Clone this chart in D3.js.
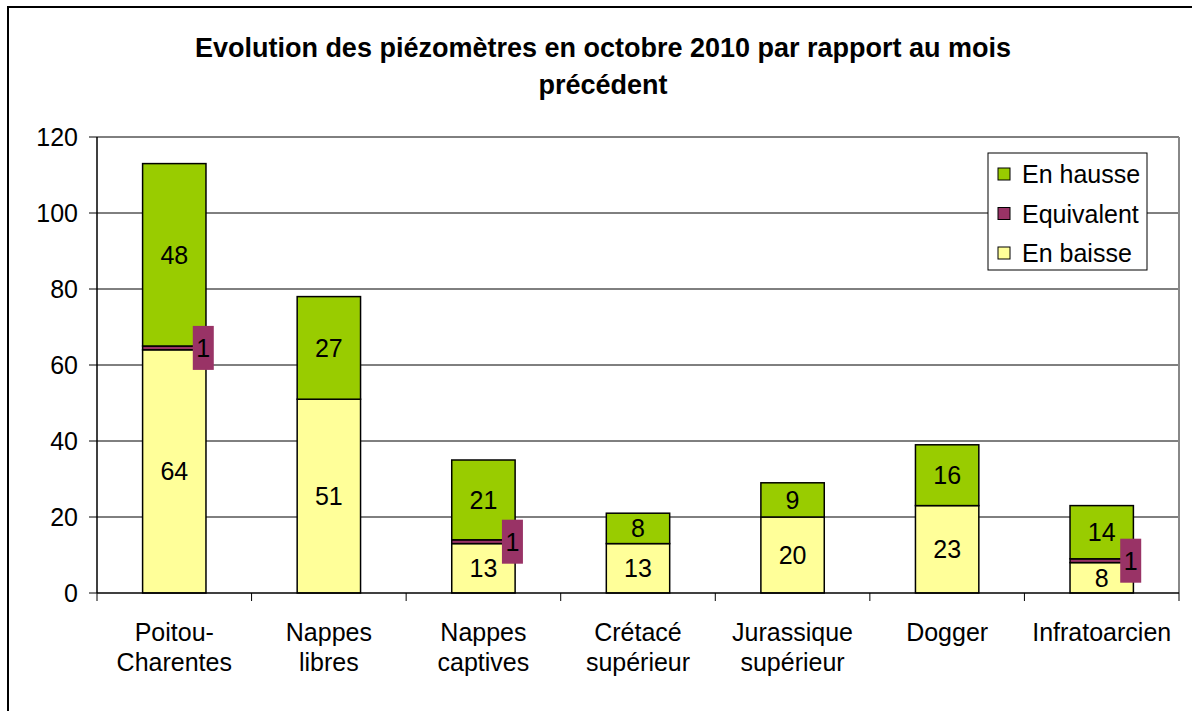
<!DOCTYPE html>
<html><head><meta charset="utf-8">
<script src="https://cdn.jsdelivr.net/npm/d3@7"></script>
<style>body{margin:0;background:#fff}svg{display:block;font-family:"Liberation Sans",Arial,sans-serif}</style>
</head><body><svg id="c" width="1192" height="711"></svg>
<script>
const categories = [["Poitou-","Charentes"],["Nappes","libres"],["Nappes","captives"],["Crétacé","supérieur"],["Jurassique","supérieur"],["Dogger"],["Infratoarcien"]];
const enBaisse = [64,51,13,13,20,23,8];
const equivalent = [1,0,1,0,0,0,1];
const enHausse = [48,27,21,8,9,16,14];
const yTicks = [0,20,40,60,80,100,120];
const seriesNames = ["En baisse","Equivalent","En hausse"];
const colors = ["#FFFF99","#993366","#99CC00"];
const titleLines = ["Evolution des piézomètres en octobre 2010 par rapport au mois","précédent"];

const svg = d3.select("#c");
const L=97,R=1179,T=137,B=593;
const x = d3.scaleBand().domain(d3.range(categories.length)).range([L,R]).paddingInner(0.59).paddingOuter(0.295);
const y = d3.scaleLinear().domain([0,120]).range([B,T]);

svg.append("rect").attr("x",8).attr("y",7).attr("width",1250).attr("height",800).attr("fill","none").attr("stroke","#000").attr("stroke-width",2);

// title
svg.append("text").attr("x",603).attr("font-weight","bold").attr("font-size",27).attr("text-anchor","middle")
  .selectAll("tspan").data(titleLines).join("tspan").attr("x",603).attr("y",(d,i)=>57+i*37).text(d=>d);

// gridlines
svg.append("g").selectAll("line").data(yTicks.filter(d=>d>0)).join("line")
  .attr("x1",L).attr("x2",R).attr("y1",d=>y(d)).attr("y2",d=>y(d)).attr("stroke","#000").attr("stroke-width",1);
svg.append("line").attr("x1",R).attr("x2",R).attr("y1",T).attr("y2",B).attr("stroke","#888").attr("stroke-width",2);

// stacked data
const rows = categories.map((c,i)=>({i, b:enBaisse[i], e:equivalent[i], h:enHausse[i]}));
const stack = d3.stack().keys(["b","e","h"])(rows);

const g = svg.append("g");
stack.forEach((s,k)=>{
  g.selectAll(null).data(s.filter(d=>d[1]>d[0])).join("rect")
    .attr("x",d=>x(d.data.i)).attr("width",x.bandwidth())
    .attr("y",d=>y(d[1])).attr("height",d=>y(d[0])-y(d[1]))
    .attr("fill",colors[k]).attr("stroke","#000").attr("stroke-width",1.5);
});

// labels
[0,2].forEach(k=>{
  g.selectAll(null).data(stack[k].filter(d=>d[1]>d[0])).join("text")
    .attr("x",d=>x(d.data.i)+x.bandwidth()/2).attr("y",d=>(y(d[0])+y(d[1]))/2+9)
    .attr("text-anchor","middle").attr("font-size",25).text(d=>d[1]-d[0]);
});
const eq = stack[1].filter(d=>d[1]>d[0]);
const eg = g.selectAll(null).data(eq).join("g")
  .attr("transform",d=>`translate(${x(d.data.i)+x.bandwidth()/2+29},${(y(d[0])+y(d[1]))/2})`);
eg.append("rect").attr("x",-10.5).attr("y",-22).attr("width",21).attr("height",44).attr("fill","#993366");
eg.append("text").attr("y",9).attr("text-anchor","middle").attr("font-size",25).text(d=>d[1]-d[0]);

// y axis
svg.append("line").attr("x1",L).attr("x2",L).attr("y1",T).attr("y2",B).attr("stroke","#000").attr("stroke-width",1.5);
svg.append("g").selectAll("line").data(yTicks).join("line").attr("x1",L-8).attr("x2",L).attr("y1",d=>y(d)).attr("y2",d=>y(d)).attr("stroke","#000");
svg.append("g").selectAll("text").data(yTicks).join("text").attr("x",78).attr("y",d=>y(d)+9)
  .attr("text-anchor","end").attr("font-size",25).text(d=>d);

// x axis
svg.append("line").attr("x1",L).attr("x2",R).attr("y1",B).attr("y2",B).attr("stroke","#000").attr("stroke-width",1.5);
const step = x.step();
svg.append("g").selectAll("line").data(d3.range(categories.length+1)).join("line")
  .attr("x1",d=>L+d*step).attr("x2",d=>L+d*step).attr("y1",B).attr("y2",B+8).attr("stroke","#000");
svg.append("g").selectAll("text").data(categories).join("text")
  .attr("font-size",25).attr("text-anchor","middle")
  .each(function(d,i){
    d3.select(this).selectAll("tspan").data(d).join("tspan")
      .attr("x",x(i)+x.bandwidth()/2).attr("y",(t,j)=>641+j*30).text(t=>t);
  });

// legend
const lg = svg.append("g");
lg.append("rect").attr("x",988).attr("y",153).attr("width",159).attr("height",117).attr("fill","#fff").attr("stroke","#000").attr("stroke-width",1);
const legItems = [2,1,0];
legItems.forEach((k,j)=>{
  const cy = 174+j*39.5;
  lg.append("rect").attr("x",998).attr("y",cy-6).attr("width",12).attr("height",12).attr("fill",colors[k]).attr("stroke","#000");
  lg.append("text").attr("x",1022).attr("y",cy+9).attr("font-size",25).text(seriesNames[k]);
});
</script></body></html>
